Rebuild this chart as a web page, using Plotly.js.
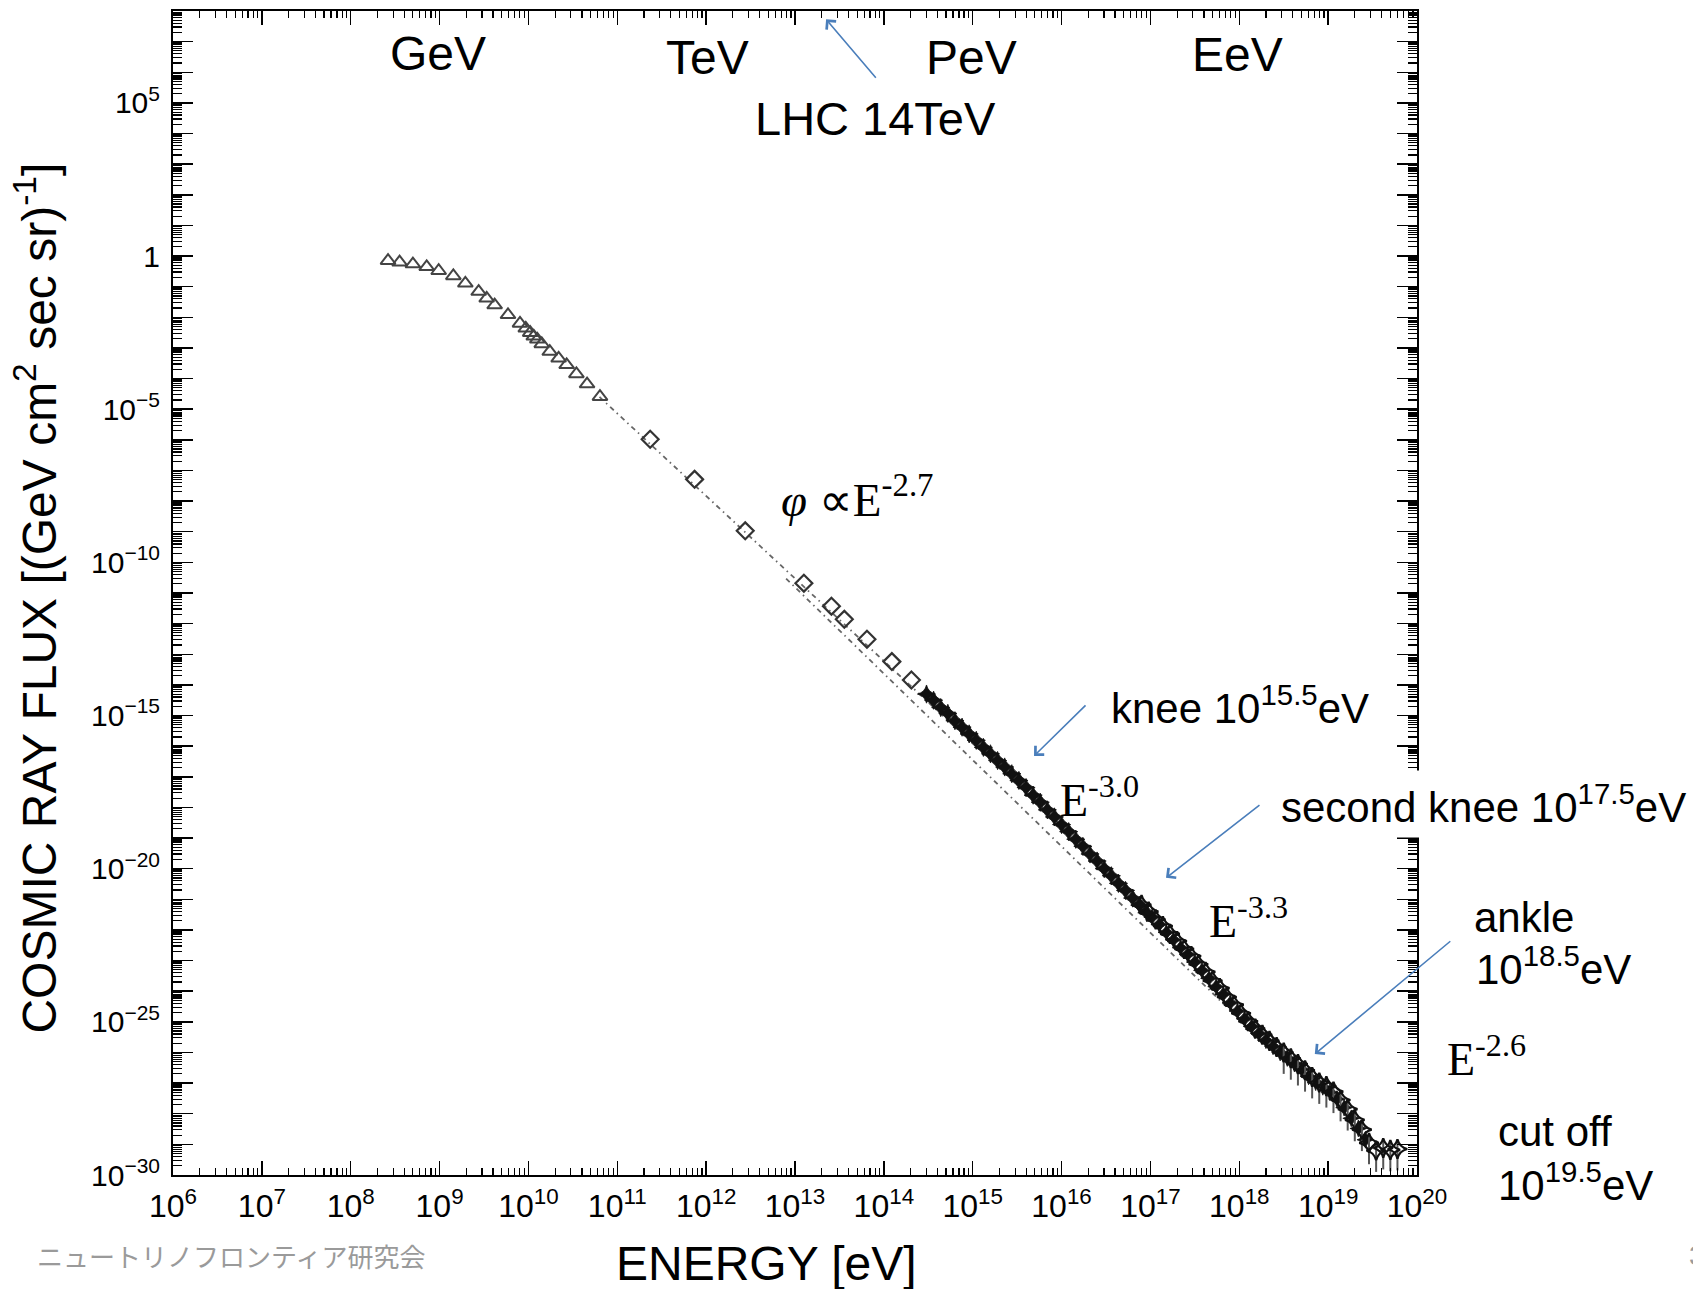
<!DOCTYPE html>
<html><head><meta charset="utf-8">
<script src="https://cdn.plot.ly/plotly-3.0.1.min.js"></script>
<style>html,body{margin:0;padding:0;background:#fff;}#chart{width:1693px;height:1289px;}</style>
</head><body><div id="chart"></div>
<script>
// ---- values (log10 of energy [eV] and of flux) ----
const triLogE    = [8.42, 8.55, 8.70, 8.855, 8.99, 9.155, 9.29, 9.44, 9.53, 9.62, 9.77, 9.905, 9.97, 10.02, 10.06, 10.10, 10.15, 10.24, 10.34, 10.43, 10.54, 10.66, 10.805];
const triLogFlux = [-0.15, -0.20, -0.26, -0.35, -0.48, -0.65, -0.89, -1.16, -1.38, -1.60, -1.92, -2.20, -2.36, -2.50, -2.62, -2.72, -2.87, -3.12, -3.34, -3.55, -3.85, -4.18, -4.59];

const diaLogE    = [11.37, 11.87, 12.44, 13.10, 13.41, 13.555, 13.81, 14.09, 14.31];
const diaLogFlux = [-5.98, -7.29, -8.97, -10.68, -11.43, -11.86, -12.51, -13.24, -13.84];

const kneeLogE    = [14.48, 14.56, 14.64, 14.72, 14.80, 14.88, 14.96, 15.04, 15.12, 15.20, 15.28, 15.36, 15.44, 15.52, 15.60, 15.68, 15.76, 15.84, 15.92, 16.00, 16.08, 16.16, 16.24, 16.32, 16.40, 16.48, 16.56, 16.64, 16.72, 16.80, 16.88, 16.96];
const kneeLogFlux = [-14.30, -14.50, -14.74, -14.93, -15.17, -15.38, -15.60, -15.81, -16.04, -16.25, -16.47, -16.68, -16.90, -17.12, -17.35, -17.60, -17.83, -18.08, -18.31, -18.56, -18.79, -19.04, -19.27, -19.52, -19.75, -20.00, -20.23, -20.48, -20.71, -20.96, -21.19, -21.44];

const heLogE    = [16.90, 16.98, 17.06, 17.14, 17.22, 17.30, 17.38, 17.46, 17.54, 17.62, 17.70, 17.78, 17.86, 17.94, 18.02, 18.10, 18.18, 18.26, 18.34, 18.42];
const heLogFlux = [-21.18, -21.40, -21.66, -21.87, -22.13, -22.36, -22.62, -22.85, -23.12, -23.37, -23.66, -23.90, -24.19, -24.44, -24.72, -24.98, -25.22, -25.42, -25.62, -25.82];

const uheLogE    = [18.50, 18.58, 18.66, 18.74, 18.82, 18.90, 18.98, 19.06, 19.14, 19.22, 19.30, 19.38, 19.46, 19.54, 19.62, 19.70, 19.78];
const uheLogFlux = [-26.00, -26.19, -26.38, -26.58, -26.80, -26.98, -27.10, -27.28, -27.55, -27.85, -28.20, -28.52, -28.95, -29.20, -29.12, -29.18, -29.15];

const bLogE    = [17.02, 17.10, 17.18, 17.26, 17.34, 17.42, 17.50, 17.58, 17.66, 17.74, 17.82, 17.90, 17.98, 18.06, 18.14, 18.22, 18.30, 18.38, 18.46, 18.54, 18.62, 18.70, 18.78, 18.86, 18.94, 19.02, 19.10, 19.18, 19.26, 19.34, 19.42];
const bLogFlux = [-21.58, -21.82, -22.08, -22.32, -22.58, -22.80, -23.05, -23.32, -23.58, -23.85, -24.10, -24.38, -24.65, -24.90, -25.15, -25.38, -25.60, -25.80, -26.00, -26.18, -26.36, -26.55, -26.78, -26.97, -27.12, -27.30, -27.52, -27.80, -28.15, -28.48, -28.85];

// dotted guide lines (end points)
const lineULogE = [10.80, 17.00];
const lineULogFlux = [-4.60, -21.30];
const lineLLogE = [12.90, 17.90];
const lineLLogFlux = [-10.53, -24.63];

// axis tick labels
const xTickExps = [6, 7, 8, 9, 10, 11, 12, 13, 14, 15, 16, 17, 18, 19, 20];
const xTickText = ['10<sup>6</sup>','10<sup>7</sup>','10<sup>8</sup>','10<sup>9</sup>','10<sup>10</sup>','10<sup>11</sup>','10<sup>12</sup>','10<sup>13</sup>','10<sup>14</sup>','10<sup>15</sup>','10<sup>16</sup>','10<sup>17</sup>','10<sup>18</sup>','10<sup>19</sup>','10<sup>20</sup>'];
const yLabelExps = [5, 0, -5, -10, -15, -20, -25, -30];
const yLabelText = ['10<sup>5</sup>','1','10<sup>−5</sup>','10<sup>−10</sup>','10<sup>−15</sup>','10<sup>−20</sup>','10<sup>−25</sup>','10<sup>−30</sup>'];

// ---- build ----
const p10 = a => a.map(v => Math.pow(10, v));
const yDecadeVals = [];
for (let k = -30; k <= 8; k++) yDecadeVals.push(Math.pow(10, k));

const dotted = {color: '#666', width: 1.8, dash: '5px,4px,1.5px,4px'};
const traces = [
  {x: p10(lineULogE), y: p10(lineULogFlux), mode: 'lines', line: dotted, hoverinfo: 'skip'},
  {x: p10(lineLLogE), y: p10(lineLLogFlux), mode: 'lines', line: dotted, hoverinfo: 'skip'},
  {x: p10(triLogE), y: p10(triLogFlux), mode: 'markers',
   marker: {symbol: 'triangle-up-open', size: 13, color: '#444', line: {width: 2, color: '#444'}}},
  {x: p10(diaLogE), y: p10(diaLogFlux), mode: 'markers',
   marker: {symbol: 'diamond-open', size: 13, color: '#333', line: {width: 2.2, color: '#333'}}},
  {x: p10(kneeLogE), y: p10(kneeLogFlux), mode: 'markers',
   marker: {symbol: 'star-diamond', size: 13, color: '#111', line: {width: 0.8, color: '#111'}}},
  {x: p10(bLogE), y: p10(bLogFlux), mode: 'markers',
   marker: {symbol: 'star-diamond', size: 12, color: '#111', line: {width: 0.8, color: '#111'}}},
  {x: p10(heLogE), y: p10(heLogFlux), mode: 'markers',
   marker: {symbol: 'star-diamond-open', size: 14, color: '#111', line: {width: 2.2, color: '#111'}}},
  {x: p10(uheLogE), y: p10(uheLogFlux), mode: 'markers',
   error_y: {type: 'percent', symmetric: false, value: 80, valueminus: 80, color: '#555', thickness: 2, width: 0},
   marker: {symbol: 'star-diamond-open', size: 14, color: '#111', line: {width: 2.2, color: '#111'}}},
  {x: [], y: [], yaxis: 'y2', mode: 'markers', hoverinfo: 'skip'}
];

const sans = 'Liberation Sans, Arial, sans-serif';
const serif = 'Liberation Serif, Times New Roman, serif';
const blue = '#4a7ebb';
function txt(text, x, y, size, opts) {
  return Object.assign({text: text, xref: 'paper', yref: 'paper', x: x, y: y, showarrow: false,
    xanchor: 'center', yanchor: 'middle', font: {family: sans, size: size, color: '#000'}}, opts || {});
}
function arrow(xLog, yLog, ax, ay) {
  return {x: xLog, y: yLog, xref: 'x', yref: 'y', text: '', showarrow: true, arrowhead: 4,
    arrowsize: 1.5, arrowwidth: 1.6, arrowcolor: blue, ax: ax, ay: ay, standoff: 0};
}
const serifFont = s => ({family: serif, size: s, color: '#000'});

const annotations = [
  txt('GeV', 0.2133, 0.9635, 48),
  txt('TeV', 0.4294, 0.9603, 48),
  txt('PeV', 0.642, 0.9603, 48),
  txt('EeV', 0.8556, 0.963, 48),
  txt('LHC 14TeV', 0.5648, 0.9074, 47),
  txt('<i>φ</i> ∝E<sup>-2.7</sup>', 0.4875, 0.5827, 47, {xanchor: 'left', font: serifFont(47)}),
  txt('knee 10<sup>15.5</sup>eV', 0.7523, 0.4038, 42, {xanchor: 'left'}),
  txt('E<sup>-3.0</sup>', 0.7114, 0.3249, 46, {xanchor: 'left', font: serifFont(46)}),
  txt('second knee 10<sup>17.5</sup>eV', 0.8850, 0.3184, 42, {xanchor: 'left', bgcolor: '#fff', borderpad: 6}),
  txt('E<sup>-3.3</sup>', 0.8312, 0.2210, 46, {xanchor: 'left', font: serifFont(46)}),
  txt('ankle', 1.0439, 0.2210, 42, {xanchor: 'left'}),
  txt('10<sup>18.5</sup>eV', 1.0457, 0.1794, 42, {xanchor: 'left'}),
  txt('E<sup>-2.6</sup>', 1.0222, 0.1022, 46, {xanchor: 'left', font: serifFont(46)}),
  txt('cut off', 1.0639, 0.0374, 42, {xanchor: 'left'}),
  txt('10<sup>19.5</sup>eV', 1.0639, -0.0062, 42, {xanchor: 'left'}),
  txt('ENERGY [eV]', 0.4772, -0.0759, 48),
  txt('COSMIC RAY FLUX [(GeV cm<sup>2</sup> sec sr)<sup>-1</sup>]', -0.1105, 0.4957, 48, {textangle: -90}),
  txt('ニュートリノフロンティア研究会', -0.1113, -0.0693, 26, {xanchor: 'left', font: {family: 'Noto Sans CJK JP', size: 26, color: '#9a9a9a'}}),
  txt('3', 1.2171, -0.0693, 28, {xanchor: 'left', font: {family: sans, size: 28, color: '#9a9a9a'}}),
  arrow(13.35, 7.73, 51, 60),
  arrow(15.69, -16.32, 53, -52),
  arrow(17.175, -20.30, 95, -74),
  arrow(18.85, -26.05, 137, -114)
];

const layout = {
  width: 1693, height: 1289,
  margin: {l: 173, r: 276, t: 11, b: 114},
  paper_bgcolor: '#fff', plot_bgcolor: '#fff',
  showlegend: false,
  xaxis: {
    type: 'log', range: [6, 20], showgrid: false, zeroline: false,
    showline: true, linecolor: '#000', linewidth: 2, mirror: 'ticks',
    ticks: 'inside', ticklen: 14, tickwidth: 1.5, tickcolor: '#000',
    tickmode: 'array', tickvals: p10(xTickExps), ticktext: xTickText,
    tickfont: {family: sans, size: 32, color: '#000'}, ticklabelstandoff: 2,
    minor: {ticks: 'inside', ticklen: 7, tickwidth: 1.2, tickcolor: '#000', dtick: 'D1', showgrid: false}
  },
  yaxis: {
    type: 'log', range: [-30, 8], showgrid: false, zeroline: false,
    showline: true, linecolor: '#000', linewidth: 2, mirror: 'ticks',
    ticks: 'inside', ticklen: 20, tickwidth: 1.5, tickcolor: '#000',
    tickmode: 'array', tickvals: yDecadeVals, showticklabels: false,
    minor: {ticks: 'inside', ticklen: 9, tickwidth: 1.2, tickcolor: '#000', dtick: 'D1', showgrid: false}
  },
  yaxis2: {
    type: 'log', range: [-30, 8], overlaying: 'y', side: 'left', showgrid: false, zeroline: false,
    showline: false, ticks: '', tickmode: 'array', tickvals: p10(yLabelExps), ticktext: yLabelText,
    tickfont: {family: sans, size: 30, color: '#000'}, ticklabelstandoff: 12
  },
  annotations: annotations
};

Plotly.newPlot('chart', traces, layout, {displayModeBar: false, staticPlot: true});
</script>
</body></html>
